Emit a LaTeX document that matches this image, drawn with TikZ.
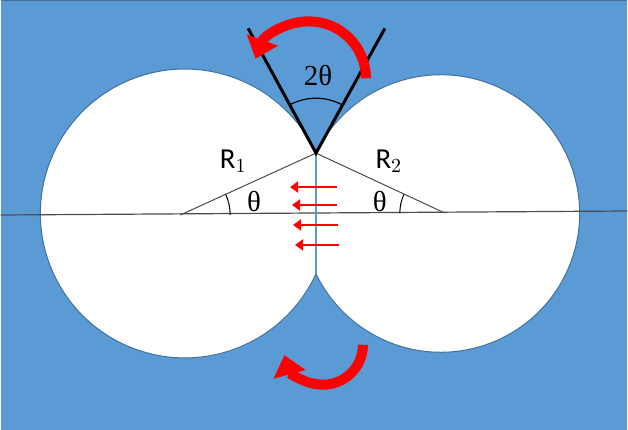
\documentclass[tikz,border=0pt]{standalone}
\usepackage{fontspec}
\setmainfont{Carlito}
\newfontfamily\greek{Liberation Serif}
\usetikzlibrary{arrows.meta,calc}
\definecolor{bgblue}{HTML}{5B9BD5}
\definecolor{rimblue}{HTML}{41719C}
\begin{document}
\begin{tikzpicture}
        [x=0.5pt,y=-0.5pt,
         rim/.style={draw=rimblue,line width=0.5pt},
         flow/.style={red,line width=1.4pt,-{Triangle[length=4pt,width=5.5pt]}},
         spin/.style={red,line width=5pt,-{Triangle[length=10pt,width=16pt]}},
         lbl/.style={font=\fontsize{14.5}{14.5}\selectfont}]
        \fill[bgblue] (0,0) rectangle (628,430);
        \draw[rimblue] (0,0) -- (628,0);

        \coordinate (C1) at (180,215);
        \coordinate (C2) at (445,213);
        \coordinate (top) at (316,153);
        \coordinate (bot) at (316,274);

        % the two circles
        \fill[white] (184.7,213.5) circle[radius=144.7];
        \fill[white] (441,213.5) circle[radius=139];
        \draw[rim] (top) arc[start angle=-24.7,end angle=-335.3,radius=144.7];
        \draw[rim] (top) arc[start angle=-154.2,end angle=154.2,radius=139];

        \draw[black!70,line width=0.6pt] (0,215) -- (628,211);
        \draw[black!70,line width=0.5pt] (C1) -- (top) -- (C2);
        \draw[bgblue,line width=1.2pt] (top) -- (bot);

        % angles
        \draw[line width=0.5pt] ($(C1)+(50,0)$) arc[start angle=0,end angle=-24.5,radius=50];
        \draw[line width=0.5pt] ($(C2)+(-45,0)$) arc[start angle=180,end angle=204.5,radius=45];
        \node[lbl] (th1) at (254,201) {\greek θ};
        \node[lbl] (th2) at (380,201) {\greek θ};
        \node[lbl] (R1) at (233,161) {R$_1$};
        \node[lbl] (R2) at (389,161) {R$_2$};

        \coordinate (v1) at (248,28);
        \coordinate (v2) at (385,28);
        \draw[line width=1.5pt] (v1) -- (top) -- (v2);
        \draw[line width=0.6pt] ($(top)+(-118.5:55)$) arc[start angle=-118.5,end angle=-61,radius=55];
        \node[lbl] (twoth) at (318,75) {\greek 2θ};

        % pressure arrows
        \foreach \y/\a/\b in {187/337/290,205/337/292,225/338/293,245/339/295}
          {\draw[flow] (\a,\y) -- (\b,\y);}

        % rotation arrows
        \draw[spin] (366,78) arc[start angle=0,end angle=-160,radius=57];
        \draw[spin] (363,345) arc[start angle=0,end angle=165,radius=40];
\end{tikzpicture}
\end{document}
